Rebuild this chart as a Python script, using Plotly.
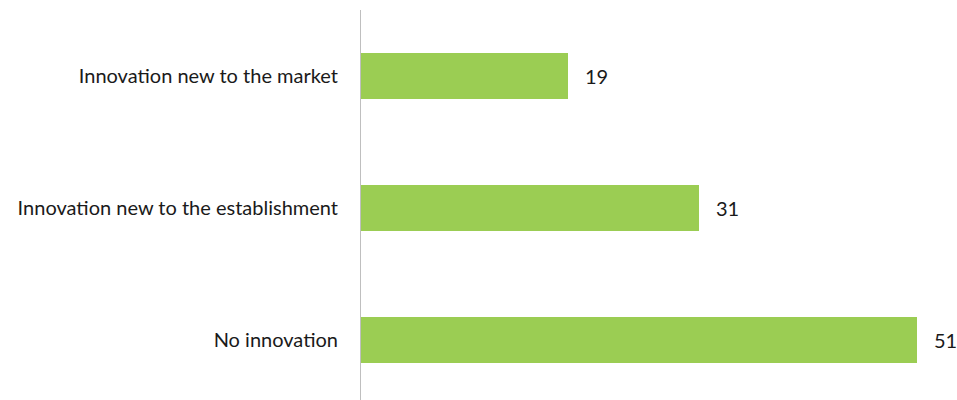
import plotly.graph_objects as go

categories = ["Innovation new to the market", "Innovation new to the establishment", "No innovation"]
values = [19, 31, 51]
value_labels = ["19", "31", "51"]

BAR_COLOR = "#9BCD53"
TEXT_COLOR = "#1A1A1A"
FONT = "Lato"
FONT_SIZE = 20

fig = go.Figure(
    go.Bar(
        y=categories,
        x=values,
        orientation="h",
        marker=dict(color=BAR_COLOR, line=dict(width=0)),
        width=0.347,
        hoverinfo="skip",
    )
)

# value labels just past the end of each bar
for cat, val, lab in zip(categories, values, value_labels):
    fig.add_annotation(
        x=val, y=cat, text=lab, showarrow=False,
        xanchor="left", yanchor="middle", xshift=15,
        font=dict(family=FONT, size=FONT_SIZE, color=TEXT_COLOR),
    )

fig.update_layout(
    width=957, height=400,
    margin=dict(l=361, r=0, t=10, b=0),
    paper_bgcolor="white", plot_bgcolor="white",
    showlegend=False,
    font=dict(family=FONT, size=FONT_SIZE, color=TEXT_COLOR),
    bargap=0,
)
fig.update_xaxes(range=[0, 596 / 10.9], visible=False, showgrid=False, zeroline=False)
fig.update_yaxes(
    type="category",
    range=[2.451, -0.495],
    showgrid=False, zeroline=False,
    showline=True, linecolor="#BFBFBF", linewidth=1,
    ticks="", ticklabelstandoff=18,
    tickfont=dict(family=FONT, size=FONT_SIZE, color=TEXT_COLOR),
)

fig.write_html("out.html")
